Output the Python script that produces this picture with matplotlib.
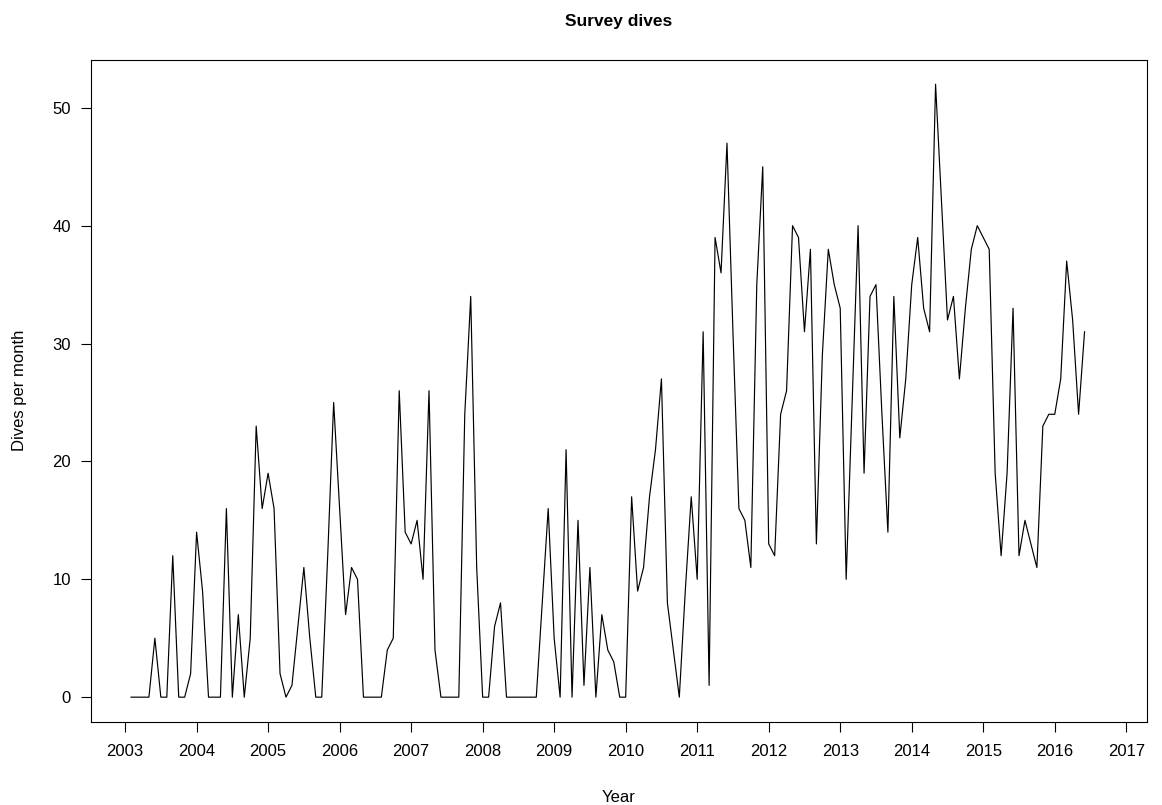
import numpy as np
import matplotlib
matplotlib.use("Agg")
import matplotlib.pyplot as plt

plt.rcParams['font.family'] = ['Liberation Sans', 'DejaVu Sans']

# Monthly dive counts, Feb 2003 to Jun 2016
start_year = 2003
start_month = 2
dives = [
    0, 0, 0, 0, 5, 0, 0, 12, 0, 0, 2,
    14, 9, 0, 0, 0, 16, 0, 7, 0, 5,
    23, 16, 19, 16, 2, 0, 1, 6, 11, 5,
    0, 0, 12, 25, 16, 7, 11, 10, 0, 0,
    0, 0, 4, 5, 26, 14, 13, 15, 10, 26,
    4, 0, 0, 0, 0, 24, 34, 11, 0, 0,
    6, 8, 0, 0, 0, 0, 0, 0, 8, 16,
    5, 0, 21, 0, 15, 1, 11, 0, 7, 4,
    3, 0, 0, 17, 9, 11, 17, 21, 27, 8,
    4, 0, 9, 17, 10, 31, 1, 39, 36, 47,
    31, 16, 15, 11, 35, 45, 13, 12, 24, 26,
    40, 39, 31, 38, 13, 29, 38, 35, 33, 10,
    25, 40, 19, 34, 35, 24, 14, 34, 22, 27,
    35, 39, 33, 31, 52, 42, 32, 34, 27, 33,
    38, 40, 39, 38, 19, 12, 19, 33, 12, 15,
    13, 11, 23, 24, 24, 27, 37, 32, 24, 31,
]
year_ticks = list(range(2003, 2018))
dive_ticks = [0, 10, 20, 30, 40, 50]

# decimal year of each month (ts-style: year + (month-1)/12)
t = start_year + (start_month - 1 + np.arange(len(dives))) / 12

fig = plt.figure(figsize=(11.62, 8.05), dpi=100)
ax = fig.add_axes([0.0781, 0.1035, 0.9090, 0.8223])

ax.plot(t, dives, color='black', lw=0.85)

ax.set_xlim(2002.52, 2017.29)
ax.set_ylim(-2.08, 54.08)
ax.set_xticks(year_ticks)
ax.set_yticks(dive_ticks)
ax.tick_params(axis='both', direction='out', length=7.3, width=0.8,
               labelsize=12, colors='black')
ax.tick_params(axis='x', pad=9)
ax.tick_params(axis='y', pad=7)
for spine in ax.spines.values():
    spine.set_linewidth(0.8)

ax.set_title("Survey dives", fontsize=12.5, fontweight='bold', pad=24)
ax.set_xlabel("Year", fontsize=12, labelpad=22)
ax.set_ylabel("Dives per month", fontsize=12, labelpad=18)

fig.savefig("out.png", dpi=100)
